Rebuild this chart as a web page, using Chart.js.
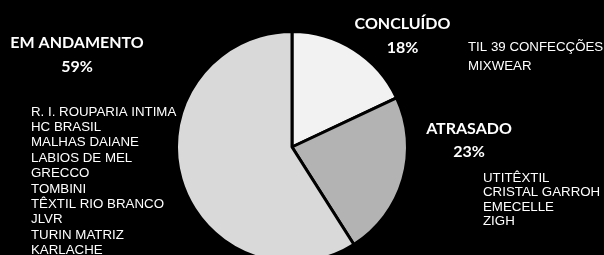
<!DOCTYPE html>
<html>
<head>
<meta charset="utf-8">
<script src="https://cdn.jsdelivr.net/npm/chart.js@4/dist/chart.umd.min.js"></script>
<style>
html,body{margin:0;padding:0;background:#000;overflow:hidden;width:604px;height:255px;}
#wrap{width:604px;height:270px;}
</style>
</head>
<body>
<div id="wrap"><canvas id="c" width="604" height="270"></canvas></div>
<script>
const categories = ['CONCLUÍDO', 'ATRASADO', 'EM ANDAMENTO'];
const percents = [18, 23, 59];
const concluidoList = ['TIL 39 CONFECÇÕES', 'MIXWEAR'];
const atrasadoList = ['UTITÊXTIL', 'CRISTAL GARROH', 'EMECELLE', 'ZIGH'];
const andamentoList = ['R. I. ROUPARIA INTIMA', 'HC BRASIL', 'MALHAS DAIANE', 'LABIOS DE MEL', 'GRECCO', 'TOMBINI', 'TÊXTIL RIO BRANCO', 'JLVR', 'TURIN MATRIZ', 'KARLACHE'];
const sliceColors = ['#f2f2f2', '#b3b3b3', '#d9d9d9'];

const labelPlugin = {
  id: 'labels',
  afterDraw(chart) {
    const ctx = chart.ctx;
    ctx.save();
    ctx.fillStyle = '#ffffff';
    ctx.textBaseline = 'middle';
    const heads = [
      {i: 0, x: 402.5, y: 24, py: 48},
      {i: 1, x: 469, y: 128.5, py: 152},
      {i: 2, x: 77, y: 43, py: 67}
    ];
    ctx.textAlign = 'center';
    ctx.font = 'bold 16px Lato';
    heads.forEach(h => {
      ctx.fillText(categories[h.i], h.x, h.y);
      ctx.fillText(percents[h.i] + '%', h.x, h.py);
    });
    ctx.textAlign = 'left';
    ctx.font = '13.3px "Liberation Sans"';
    const lists = [
      {items: concluidoList, x: 468, y: 47, lh: 19},
      {items: atrasadoList, x: 483, y: 178.5, lh: 14.3},
      {items: andamentoList, x: 31, y: 112, lh: 15.4}
    ];
    lists.forEach(l => {
      l.items.forEach((t, k) => ctx.fillText(t, l.x, l.y + k * l.lh));
    });
    ctx.restore();
  }
};

new Chart(document.getElementById('c'), {
  type: 'pie',
  data: {
    labels: categories,
    datasets: [{
      data: percents,
      backgroundColor: sliceColors,
      borderColor: '#000000',
      borderWidth: 3
    }]
  },
  options: {
    responsive: false,
    animation: false,
    layout: {padding: {top: 30, bottom: 6, left: 0, right: 20}},
    plugins: {legend: {display: false}, tooltip: {enabled: false}}
  },
  plugins: [labelPlugin]
});
</script>
</body>
</html>
